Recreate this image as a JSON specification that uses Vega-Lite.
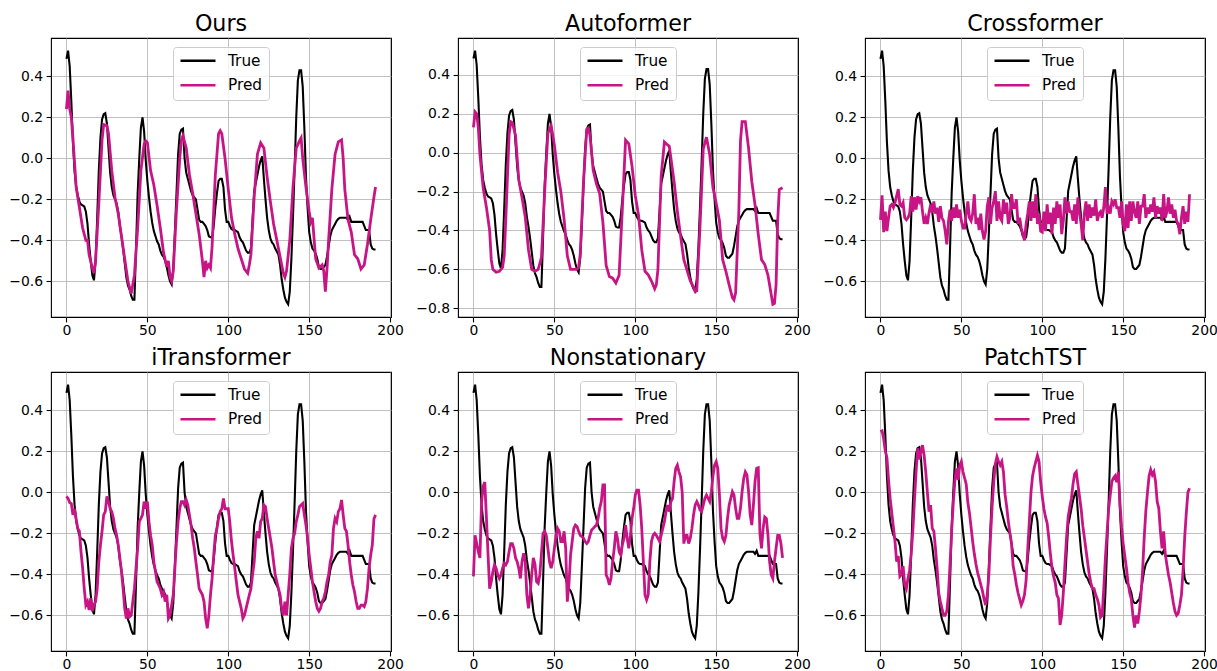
{
"$schema": "https://vega.github.io/schema/vega-lite/v6.json",
"padding": {"left": 8, "top": 12, "right": 5, "bottom": 0},
"datasets": {
"truth": [{"x":0,"y":0.485},{"x":1,"y":0.525},{"x":2,"y":0.45},{"x":3,"y":0.28},{"x":4,"y":0.08},{"x":5,"y":-0.06},{"x":6,"y":-0.14},{"x":7,"y":-0.18},{"x":8,"y":-0.21},{"x":9,"y":-0.225},{"x":10,"y":-0.23},{"x":11,"y":-0.235},{"x":12,"y":-0.26},{"x":13,"y":-0.32},{"x":14,"y":-0.42},{"x":15,"y":-0.5},{"x":16,"y":-0.57},{"x":17,"y":-0.595},{"x":18,"y":-0.5},{"x":19,"y":-0.29},{"x":20,"y":-0.06},{"x":21,"y":0.1},{"x":22,"y":0.19},{"x":23,"y":0.215},{"x":24,"y":0.22},{"x":25,"y":0.17},{"x":26,"y":0.05},{"x":27,"y":-0.07},{"x":28,"y":-0.14},{"x":29,"y":-0.18},{"x":30,"y":-0.2},{"x":31,"y":-0.22},{"x":32,"y":-0.26},{"x":33,"y":-0.33},{"x":34,"y":-0.38},{"x":35,"y":-0.44},{"x":36,"y":-0.51},{"x":37,"y":-0.58},{"x":38,"y":-0.62},{"x":39,"y":-0.64},{"x":40,"y":-0.67},{"x":41,"y":-0.69},{"x":42,"y":-0.69},{"x":43,"y":-0.44},{"x":44,"y":-0.17},{"x":45,"y":0},{"x":46,"y":0.15},{"x":47,"y":0.2},{"x":48,"y":0.13},{"x":49,"y":-0.01},{"x":50,"y":-0.11},{"x":51,"y":-0.19},{"x":52,"y":-0.26},{"x":53,"y":-0.315},{"x":54,"y":-0.355},{"x":55,"y":-0.38},{"x":56,"y":-0.405},{"x":57,"y":-0.42},{"x":58,"y":-0.45},{"x":59,"y":-0.47},{"x":60,"y":-0.48},{"x":61,"y":-0.5},{"x":62,"y":-0.53},{"x":63,"y":-0.57},{"x":64,"y":-0.6},{"x":65,"y":-0.615},{"x":66,"y":-0.54},{"x":67,"y":-0.36},{"x":68,"y":-0.17},{"x":69,"y":0.02},{"x":70,"y":0.12},{"x":71,"y":0.14},{"x":72,"y":0.145},{"x":73,"y":0},{"x":74,"y":-0.07},{"x":75,"y":-0.1},{"x":76,"y":-0.13},{"x":77,"y":-0.16},{"x":78,"y":-0.18},{"x":79,"y":-0.19},{"x":80,"y":-0.2},{"x":81,"y":-0.25},{"x":82,"y":-0.3},{"x":83,"y":-0.31},{"x":84,"y":-0.31},{"x":85,"y":-0.32},{"x":86,"y":-0.33},{"x":87,"y":-0.35},{"x":88,"y":-0.38},{"x":89,"y":-0.385},{"x":90,"y":-0.385},{"x":91,"y":-0.33},{"x":92,"y":-0.24},{"x":93,"y":-0.17},{"x":94,"y":-0.11},{"x":95,"y":-0.1},{"x":96,"y":-0.1},{"x":97,"y":-0.14},{"x":98,"y":-0.25},{"x":99,"y":-0.31},{"x":100,"y":-0.31},{"x":101,"y":-0.33},{"x":102,"y":-0.345},{"x":103,"y":-0.35},{"x":104,"y":-0.35},{"x":105,"y":-0.355},{"x":106,"y":-0.36},{"x":107,"y":-0.385},{"x":108,"y":-0.4},{"x":109,"y":-0.41},{"x":110,"y":-0.43},{"x":111,"y":-0.45},{"x":112,"y":-0.46},{"x":113,"y":-0.46},{"x":114,"y":-0.44},{"x":115,"y":-0.3},{"x":116,"y":-0.16},{"x":117,"y":-0.12},{"x":118,"y":-0.08},{"x":119,"y":-0.04},{"x":120,"y":-0.01},{"x":121,"y":0.01},{"x":122,"y":-0.1},{"x":123,"y":-0.2},{"x":124,"y":-0.29},{"x":125,"y":-0.35},{"x":126,"y":-0.39},{"x":127,"y":-0.41},{"x":128,"y":-0.42},{"x":129,"y":-0.44},{"x":130,"y":-0.455},{"x":131,"y":-0.47},{"x":132,"y":-0.52},{"x":133,"y":-0.59},{"x":134,"y":-0.64},{"x":135,"y":-0.68},{"x":136,"y":-0.7},{"x":137,"y":-0.712},{"x":138,"y":-0.65},{"x":139,"y":-0.49},{"x":140,"y":-0.28},{"x":141,"y":-0.05},{"x":142,"y":0.2},{"x":143,"y":0.38},{"x":144,"y":0.43},{"x":145,"y":0.43},{"x":146,"y":0.35},{"x":147,"y":0.15},{"x":148,"y":-0.09},{"x":149,"y":-0.24},{"x":150,"y":-0.36},{"x":151,"y":-0.41},{"x":152,"y":-0.44},{"x":153,"y":-0.45},{"x":154,"y":-0.465},{"x":155,"y":-0.49},{"x":156,"y":-0.53},{"x":157,"y":-0.54},{"x":158,"y":-0.54},{"x":159,"y":-0.53},{"x":160,"y":-0.52},{"x":161,"y":-0.48},{"x":162,"y":-0.43},{"x":163,"y":-0.38},{"x":164,"y":-0.35},{"x":165,"y":-0.335},{"x":166,"y":-0.32},{"x":167,"y":-0.305},{"x":168,"y":-0.295},{"x":169,"y":-0.29},{"x":170,"y":-0.29},{"x":171,"y":-0.29},{"x":172,"y":-0.29},{"x":173,"y":-0.29},{"x":174,"y":-0.3},{"x":175,"y":-0.285},{"x":176,"y":-0.31},{"x":177,"y":-0.31},{"x":178,"y":-0.31},{"x":179,"y":-0.31},{"x":180,"y":-0.31},{"x":181,"y":-0.31},{"x":182,"y":-0.31},{"x":183,"y":-0.31},{"x":184,"y":-0.33},{"x":185,"y":-0.35},{"x":186,"y":-0.35},{"x":187,"y":-0.35},{"x":188,"y":-0.42},{"x":189,"y":-0.44},{"x":190,"y":-0.445},{"x":191,"y":-0.445}],
"ours": [{"x":0,"y":0.24},{"x":1,"y":0.33},{"x":2,"y":0.24},{"x":3,"y":0.2},{"x":4,"y":0.1},{"x":6,"y":-0.14},{"x":8,"y":-0.24},{"x":10,"y":-0.34},{"x":12,"y":-0.4},{"x":13,"y":-0.4},{"x":14,"y":-0.47},{"x":16,"y":-0.535},{"x":17,"y":-0.56},{"x":18,"y":-0.5},{"x":20,"y":-0.22},{"x":22,"y":0.09},{"x":23,"y":0.165},{"x":25,"y":0.16},{"x":26,"y":0.12},{"x":28,"y":-0.06},{"x":30,"y":-0.19},{"x":32,"y":-0.27},{"x":34,"y":-0.38},{"x":36,"y":-0.49},{"x":38,"y":-0.6},{"x":40,"y":-0.66},{"x":42,"y":-0.57},{"x":44,"y":-0.34},{"x":46,"y":-0.06},{"x":48,"y":0.07},{"x":49,"y":0.085},{"x":50,"y":0.077},{"x":52,"y":-0.06},{"x":54,"y":-0.13},{"x":56,"y":-0.23},{"x":58,"y":-0.34},{"x":60,"y":-0.46},{"x":62,"y":-0.53},{"x":63,"y":-0.5},{"x":64,"y":-0.58},{"x":65,"y":-0.6},{"x":66,"y":-0.55},{"x":68,"y":-0.25},{"x":70,"y":0},{"x":71,"y":0.09},{"x":72,"y":0.11},{"x":74,"y":0.05},{"x":76,"y":-0.08},{"x":78,"y":-0.17},{"x":80,"y":-0.27},{"x":82,"y":-0.37},{"x":84,"y":-0.5},{"x":85,"y":-0.58},{"x":86,"y":-0.5},{"x":87,"y":-0.535},{"x":88,"y":-0.52},{"x":89,"y":-0.535},{"x":90,"y":-0.43},{"x":92,"y":-0.08},{"x":94,"y":0.12},{"x":95,"y":0.135},{"x":96,"y":0.12},{"x":98,"y":0},{"x":100,"y":-0.15},{"x":102,"y":-0.29},{"x":104,"y":-0.37},{"x":106,"y":-0.44},{"x":108,"y":-0.49},{"x":110,"y":-0.54},{"x":112,"y":-0.56},{"x":113,"y":-0.52},{"x":114,"y":-0.47},{"x":116,"y":-0.19},{"x":118,"y":0.02},{"x":120,"y":0.075},{"x":122,"y":0.05},{"x":124,"y":-0.09},{"x":126,"y":-0.21},{"x":128,"y":-0.32},{"x":130,"y":-0.4},{"x":132,"y":-0.48},{"x":134,"y":-0.56},{"x":135,"y":-0.58},{"x":136,"y":-0.55},{"x":138,"y":-0.4},{"x":140,"y":-0.14},{"x":142,"y":0.05},{"x":144,"y":0.085},{"x":145,"y":0.1},{"x":146,"y":0},{"x":148,"y":-0.14},{"x":150,"y":-0.26},{"x":151,"y":-0.31},{"x":152,"y":-0.29},{"x":154,"y":-0.49},{"x":156,"y":-0.535},{"x":158,"y":-0.52},{"x":159,"y":-0.55},{"x":160,"y":-0.65},{"x":161,"y":-0.54},{"x":162,"y":-0.4},{"x":164,"y":-0.15},{"x":166,"y":0.02},{"x":168,"y":0.08},{"x":170,"y":0.09},{"x":171,"y":0},{"x":172,"y":-0.15},{"x":174,"y":-0.3},{"x":176,"y":-0.36},{"x":178,"y":-0.47},{"x":180,"y":-0.49},{"x":182,"y":-0.54},{"x":184,"y":-0.52},{"x":186,"y":-0.42},{"x":188,"y":-0.3},{"x":190,"y":-0.19},{"x":191,"y":-0.14}],
"autoformer": [{"x":0,"y":0.13},{"x":1,"y":0.21},{"x":2,"y":0.2},{"x":3,"y":0.13},{"x":4,"y":-0.01},{"x":6,"y":-0.18},{"x":8,"y":-0.28},{"x":10,"y":-0.4},{"x":11,"y":-0.55},{"x":12,"y":-0.6},{"x":14,"y":-0.615},{"x":16,"y":-0.61},{"x":18,"y":-0.59},{"x":19,"y":-0.53},{"x":20,"y":-0.34},{"x":22,"y":0.09},{"x":23,"y":0.16},{"x":24,"y":0.155},{"x":26,"y":0.09},{"x":28,"y":-0.14},{"x":30,"y":-0.23},{"x":32,"y":-0.33},{"x":34,"y":-0.5},{"x":36,"y":-0.6},{"x":38,"y":-0.61},{"x":40,"y":-0.6},{"x":42,"y":-0.54},{"x":44,"y":-0.2},{"x":46,"y":0.1},{"x":48,"y":0.14},{"x":50,"y":0.04},{"x":52,"y":-0.1},{"x":54,"y":-0.2},{"x":56,"y":-0.34},{"x":58,"y":-0.53},{"x":60,"y":-0.6},{"x":62,"y":-0.6},{"x":64,"y":-0.6},{"x":65,"y":-0.59},{"x":66,"y":-0.52},{"x":68,"y":-0.15},{"x":70,"y":0.12},{"x":71,"y":0.127},{"x":72,"y":0.09},{"x":74,"y":-0.09},{"x":76,"y":-0.16},{"x":78,"y":-0.21},{"x":80,"y":-0.36},{"x":82,"y":-0.58},{"x":84,"y":-0.637},{"x":86,"y":-0.645},{"x":88,"y":-0.67},{"x":90,"y":-0.63},{"x":92,"y":-0.29},{"x":94,"y":0.065},{"x":96,"y":0.045},{"x":98,"y":-0.07},{"x":100,"y":-0.22},{"x":102,"y":-0.32},{"x":104,"y":-0.5},{"x":106,"y":-0.61},{"x":108,"y":-0.628},{"x":110,"y":-0.66},{"x":112,"y":-0.7},{"x":113,"y":-0.68},{"x":114,"y":-0.6},{"x":116,"y":-0.12},{"x":118,"y":0.055},{"x":120,"y":0.04},{"x":121,"y":0.033},{"x":122,"y":-0.027},{"x":124,"y":-0.15},{"x":126,"y":-0.3},{"x":128,"y":-0.43},{"x":130,"y":-0.55},{"x":132,"y":-0.605},{"x":134,"y":-0.66},{"x":136,"y":-0.69},{"x":137,"y":-0.714},{"x":138,"y":-0.71},{"x":140,"y":-0.38},{"x":142,"y":0.02},{"x":144,"y":0.08},{"x":146,"y":-0.01},{"x":148,"y":-0.18},{"x":150,"y":-0.26},{"x":152,"y":-0.35},{"x":154,"y":-0.55},{"x":156,"y":-0.61},{"x":158,"y":-0.68},{"x":160,"y":-0.745},{"x":161,"y":-0.757},{"x":162,"y":-0.72},{"x":164,"y":-0.3},{"x":165,"y":0.06},{"x":166,"y":0.16},{"x":168,"y":0.16},{"x":170,"y":0.024},{"x":172,"y":-0.148},{"x":174,"y":-0.268},{"x":176,"y":-0.42},{"x":178,"y":-0.55},{"x":180,"y":-0.575},{"x":182,"y":-0.63},{"x":184,"y":-0.73},{"x":185,"y":-0.78},{"x":186,"y":-0.775},{"x":187,"y":-0.68},{"x":188,"y":-0.35},{"x":189,"y":-0.19},{"x":191,"y":-0.18}],
"crossformer": [{"x":0,"y":-0.3},{"x":1,"y":-0.18},{"x":2,"y":-0.36},{"x":3,"y":-0.26},{"x":4,"y":-0.355},{"x":5,"y":-0.29},{"x":6,"y":-0.233},{"x":7,"y":-0.225},{"x":8,"y":-0.24},{"x":9,"y":-0.216},{"x":11,"y":-0.15},{"x":12,"y":-0.225},{"x":13,"y":-0.233},{"x":14,"y":-0.216},{"x":15,"y":-0.29},{"x":16,"y":-0.3},{"x":17,"y":-0.29},{"x":18,"y":-0.27},{"x":19,"y":-0.184},{"x":20,"y":-0.26},{"x":21,"y":-0.19},{"x":22,"y":-0.25},{"x":23,"y":-0.184},{"x":24,"y":-0.21},{"x":25,"y":-0.19},{"x":26,"y":-0.26},{"x":27,"y":-0.32},{"x":28,"y":-0.29},{"x":29,"y":-0.32},{"x":30,"y":-0.265},{"x":31,"y":-0.225},{"x":32,"y":-0.265},{"x":33,"y":-0.21},{"x":34,"y":-0.27},{"x":35,"y":-0.24},{"x":36,"y":-0.31},{"x":37,"y":-0.233},{"x":38,"y":-0.29},{"x":39,"y":-0.305},{"x":40,"y":-0.355},{"x":41,"y":-0.42},{"x":42,"y":-0.31},{"x":43,"y":-0.25},{"x":44,"y":-0.305},{"x":45,"y":-0.24},{"x":46,"y":-0.29},{"x":47,"y":-0.225},{"x":48,"y":-0.29},{"x":49,"y":-0.25},{"x":50,"y":-0.305},{"x":51,"y":-0.34},{"x":52,"y":-0.34},{"x":53,"y":-0.27},{"x":54,"y":-0.21},{"x":55,"y":-0.29},{"x":56,"y":-0.305},{"x":57,"y":-0.27},{"x":58,"y":-0.175},{"x":59,"y":-0.32},{"x":60,"y":-0.29},{"x":61,"y":-0.35},{"x":62,"y":-0.27},{"x":63,"y":-0.355},{"x":64,"y":-0.396},{"x":65,"y":-0.355},{"x":66,"y":-0.233},{"x":67,"y":-0.19},{"x":68,"y":-0.32},{"x":69,"y":-0.24},{"x":70,"y":-0.21},{"x":71,"y":-0.16},{"x":72,"y":-0.305},{"x":73,"y":-0.21},{"x":74,"y":-0.29},{"x":75,"y":-0.305},{"x":76,"y":-0.2},{"x":77,"y":-0.27},{"x":78,"y":-0.216},{"x":79,"y":-0.32},{"x":80,"y":-0.29},{"x":81,"y":-0.175},{"x":82,"y":-0.24},{"x":83,"y":-0.24},{"x":84,"y":-0.2},{"x":85,"y":-0.32},{"x":86,"y":-0.29},{"x":87,"y":-0.34},{"x":88,"y":-0.37},{"x":89,"y":-0.4},{"x":90,"y":-0.32},{"x":91,"y":-0.27},{"x":92,"y":-0.21},{"x":93,"y":-0.305},{"x":94,"y":-0.21},{"x":95,"y":-0.29},{"x":96,"y":-0.175},{"x":97,"y":-0.32},{"x":98,"y":-0.27},{"x":99,"y":-0.355},{"x":100,"y":-0.36},{"x":101,"y":-0.26},{"x":102,"y":-0.355},{"x":103,"y":-0.225},{"x":104,"y":-0.32},{"x":105,"y":-0.265},{"x":106,"y":-0.37},{"x":107,"y":-0.24},{"x":108,"y":-0.32},{"x":109,"y":-0.21},{"x":110,"y":-0.29},{"x":111,"y":-0.225},{"x":112,"y":-0.37},{"x":113,"y":-0.305},{"x":114,"y":-0.19},{"x":115,"y":-0.27},{"x":116,"y":-0.21},{"x":117,"y":-0.26},{"x":118,"y":-0.26},{"x":119,"y":-0.305},{"x":120,"y":-0.225},{"x":121,"y":-0.32},{"x":122,"y":-0.19},{"x":123,"y":-0.265},{"x":124,"y":-0.32},{"x":125,"y":-0.4},{"x":126,"y":-0.27},{"x":127,"y":-0.21},{"x":128,"y":-0.305},{"x":129,"y":-0.225},{"x":130,"y":-0.29},{"x":131,"y":-0.24},{"x":132,"y":-0.28},{"x":133,"y":-0.2},{"x":134,"y":-0.305},{"x":135,"y":-0.27},{"x":136,"y":-0.26},{"x":137,"y":-0.29},{"x":138,"y":-0.24},{"x":139,"y":-0.14},{"x":140,"y":-0.27},{"x":141,"y":-0.24},{"x":142,"y":-0.27},{"x":143,"y":-0.21},{"x":144,"y":-0.225},{"x":145,"y":-0.2},{"x":146,"y":-0.24},{"x":147,"y":-0.24},{"x":148,"y":-0.29},{"x":149,"y":-0.21},{"x":150,"y":-0.32},{"x":151,"y":-0.355},{"x":152,"y":-0.225},{"x":153,"y":-0.34},{"x":154,"y":-0.21},{"x":155,"y":-0.305},{"x":156,"y":-0.21},{"x":157,"y":-0.26},{"x":158,"y":-0.29},{"x":159,"y":-0.21},{"x":160,"y":-0.32},{"x":161,"y":-0.233},{"x":162,"y":-0.233},{"x":163,"y":-0.175},{"x":164,"y":-0.29},{"x":165,"y":-0.24},{"x":166,"y":-0.27},{"x":167,"y":-0.225},{"x":168,"y":-0.26},{"x":169,"y":-0.19},{"x":170,"y":-0.29},{"x":171,"y":-0.233},{"x":172,"y":-0.27},{"x":173,"y":-0.24},{"x":174,"y":-0.305},{"x":175,"y":-0.175},{"x":176,"y":-0.29},{"x":177,"y":-0.26},{"x":178,"y":-0.19},{"x":179,"y":-0.27},{"x":180,"y":-0.225},{"x":181,"y":-0.29},{"x":182,"y":-0.25},{"x":183,"y":-0.305},{"x":184,"y":-0.32},{"x":185,"y":-0.37},{"x":186,"y":-0.29},{"x":187,"y":-0.233},{"x":188,"y":-0.32},{"x":189,"y":-0.26},{"x":190,"y":-0.31},{"x":191,"y":-0.175}],
"itransformer": [{"x":0,"y":-0.02},{"x":1,"y":-0.03},{"x":2,"y":-0.05},{"x":3,"y":-0.055},{"x":4,"y":-0.11},{"x":5,"y":-0.08},{"x":6,"y":-0.13},{"x":7,"y":-0.176},{"x":8,"y":-0.19},{"x":9,"y":-0.29},{"x":10,"y":-0.37},{"x":11,"y":-0.47},{"x":12,"y":-0.55},{"x":13,"y":-0.533},{"x":14,"y":-0.574},{"x":15,"y":-0.517},{"x":16,"y":-0.58},{"x":17,"y":-0.55},{"x":18,"y":-0.533},{"x":19,"y":-0.47},{"x":20,"y":-0.34},{"x":21,"y":-0.257},{"x":22,"y":-0.19},{"x":23,"y":-0.11},{"x":24,"y":-0.094},{"x":25,"y":-0.02},{"x":26,"y":-0.045},{"x":27,"y":-0.08},{"x":28,"y":-0.094},{"x":29,"y":-0.127},{"x":30,"y":-0.176},{"x":31,"y":-0.21},{"x":32,"y":-0.257},{"x":33,"y":-0.32},{"x":34,"y":-0.387},{"x":35,"y":-0.47},{"x":36,"y":-0.566},{"x":37,"y":-0.615},{"x":38,"y":-0.566},{"x":39,"y":-0.607},{"x":40,"y":-0.6},{"x":41,"y":-0.533},{"x":42,"y":-0.47},{"x":43,"y":-0.37},{"x":44,"y":-0.273},{"x":45,"y":-0.143},{"x":46,"y":-0.127},{"x":47,"y":-0.11},{"x":48,"y":-0.045},{"x":49,"y":-0.08},{"x":50,"y":-0.045},{"x":51,"y":-0.143},{"x":52,"y":-0.21},{"x":53,"y":-0.257},{"x":54,"y":-0.34},{"x":55,"y":-0.387},{"x":56,"y":-0.436},{"x":57,"y":-0.452},{"x":58,"y":-0.47},{"x":59,"y":-0.5},{"x":60,"y":-0.485},{"x":61,"y":-0.533},{"x":62,"y":-0.5},{"x":63,"y":-0.615},{"x":64,"y":-0.6},{"x":65,"y":-0.55},{"x":66,"y":-0.5},{"x":67,"y":-0.37},{"x":68,"y":-0.24},{"x":69,"y":-0.143},{"x":70,"y":-0.08},{"x":71,"y":-0.045},{"x":72,"y":-0.045},{"x":73,"y":-0.062},{"x":74,"y":-0.037},{"x":75,"y":-0.062},{"x":76,"y":-0.11},{"x":77,"y":-0.16},{"x":78,"y":-0.224},{"x":79,"y":-0.273},{"x":80,"y":-0.34},{"x":81,"y":-0.403},{"x":82,"y":-0.47},{"x":83,"y":-0.485},{"x":84,"y":-0.5},{"x":85,"y":-0.533},{"x":86,"y":-0.615},{"x":87,"y":-0.663},{"x":88,"y":-0.6},{"x":89,"y":-0.5},{"x":90,"y":-0.42},{"x":91,"y":-0.306},{"x":92,"y":-0.21},{"x":93,"y":-0.176},{"x":94,"y":-0.127},{"x":95,"y":-0.094},{"x":96,"y":-0.08},{"x":97,"y":-0.03},{"x":98,"y":-0.08},{"x":99,"y":-0.08},{"x":100,"y":-0.08},{"x":101,"y":-0.15},{"x":102,"y":-0.24},{"x":103,"y":-0.306},{"x":104,"y":-0.37},{"x":105,"y":-0.436},{"x":106,"y":-0.5},{"x":107,"y":-0.533},{"x":108,"y":-0.566},{"x":109,"y":-0.615},{"x":110,"y":-0.6},{"x":111,"y":-0.566},{"x":112,"y":-0.533},{"x":113,"y":-0.5},{"x":114,"y":-0.47},{"x":115,"y":-0.403},{"x":116,"y":-0.34},{"x":117,"y":-0.224},{"x":118,"y":-0.19},{"x":119,"y":-0.224},{"x":120,"y":-0.143},{"x":121,"y":-0.127},{"x":122,"y":-0.062},{"x":123,"y":-0.07},{"x":124,"y":-0.127},{"x":125,"y":-0.176},{"x":126,"y":-0.224},{"x":127,"y":-0.273},{"x":128,"y":-0.34},{"x":129,"y":-0.403},{"x":130,"y":-0.436},{"x":131,"y":-0.47},{"x":132,"y":-0.5},{"x":133,"y":-0.566},{"x":134,"y":-0.6},{"x":135,"y":-0.533},{"x":136,"y":-0.6},{"x":137,"y":-0.5},{"x":138,"y":-0.4},{"x":139,"y":-0.273},{"x":140,"y":-0.224},{"x":141,"y":-0.2},{"x":142,"y":-0.143},{"x":143,"y":-0.11},{"x":144,"y":-0.07},{"x":145,"y":-0.062},{"x":146,"y":-0.054},{"x":147,"y":-0.11},{"x":148,"y":-0.16},{"x":149,"y":-0.224},{"x":150,"y":-0.306},{"x":151,"y":-0.37},{"x":152,"y":-0.436},{"x":153,"y":-0.485},{"x":154,"y":-0.533},{"x":155,"y":-0.566},{"x":156,"y":-0.58},{"x":157,"y":-0.566},{"x":158,"y":-0.533},{"x":159,"y":-0.517},{"x":160,"y":-0.485},{"x":161,"y":-0.436},{"x":162,"y":-0.403},{"x":163,"y":-0.34},{"x":164,"y":-0.306},{"x":165,"y":-0.176},{"x":166,"y":-0.127},{"x":167,"y":-0.143},{"x":168,"y":-0.094},{"x":169,"y":-0.08},{"x":170,"y":-0.037},{"x":171,"y":-0.11},{"x":172,"y":-0.176},{"x":173,"y":-0.19},{"x":174,"y":-0.257},{"x":175,"y":-0.34},{"x":176,"y":-0.403},{"x":177,"y":-0.452},{"x":178,"y":-0.485},{"x":179,"y":-0.533},{"x":180,"y":-0.566},{"x":181,"y":-0.566},{"x":182,"y":-0.55},{"x":183,"y":-0.55},{"x":184,"y":-0.557},{"x":185,"y":-0.533},{"x":186,"y":-0.47},{"x":187,"y":-0.37},{"x":188,"y":-0.306},{"x":189,"y":-0.257},{"x":190,"y":-0.13},{"x":191,"y":-0.11}],
"nonstationary": [{"x":0,"y":-0.41},{"x":1,"y":-0.21},{"x":2,"y":-0.25},{"x":3,"y":-0.29},{"x":4,"y":-0.32},{"x":5,"y":-0.05},{"x":6,"y":0.03},{"x":7,"y":0.05},{"x":8,"y":-0.12},{"x":9,"y":-0.3},{"x":10,"y":-0.47},{"x":11,"y":-0.436},{"x":12,"y":-0.387},{"x":13,"y":-0.354},{"x":14,"y":-0.37},{"x":15,"y":-0.403},{"x":16,"y":-0.42},{"x":17,"y":-0.403},{"x":18,"y":-0.37},{"x":19,"y":-0.346},{"x":20,"y":-0.354},{"x":21,"y":-0.338},{"x":22,"y":-0.29},{"x":23,"y":-0.25},{"x":24,"y":-0.25},{"x":25,"y":-0.273},{"x":26,"y":-0.32},{"x":27,"y":-0.338},{"x":28,"y":-0.37},{"x":29,"y":-0.42},{"x":30,"y":-0.338},{"x":31,"y":-0.297},{"x":32,"y":-0.338},{"x":33,"y":-0.5},{"x":34,"y":-0.566},{"x":35,"y":-0.5},{"x":36,"y":-0.4},{"x":37,"y":-0.32},{"x":38,"y":-0.35},{"x":39,"y":-0.436},{"x":40,"y":-0.444},{"x":41,"y":-0.403},{"x":42,"y":-0.3},{"x":43,"y":-0.2},{"x":44,"y":-0.19},{"x":45,"y":-0.21},{"x":46,"y":-0.273},{"x":47,"y":-0.338},{"x":48,"y":-0.37},{"x":49,"y":-0.338},{"x":50,"y":-0.273},{"x":51,"y":-0.21},{"x":52,"y":-0.176},{"x":53,"y":-0.19},{"x":54,"y":-0.24},{"x":55,"y":-0.24},{"x":56,"y":-0.19},{"x":57,"y":-0.273},{"x":58,"y":-0.533},{"x":59,"y":-0.45},{"x":60,"y":-0.306},{"x":61,"y":-0.24},{"x":62,"y":-0.176},{"x":63,"y":-0.16},{"x":64,"y":-0.167},{"x":65,"y":-0.19},{"x":66,"y":-0.21},{"x":67,"y":-0.216},{"x":68,"y":-0.224},{"x":69,"y":-0.24},{"x":70,"y":-0.25},{"x":71,"y":-0.24},{"x":72,"y":-0.21},{"x":73,"y":-0.184},{"x":74,"y":-0.176},{"x":75,"y":-0.167},{"x":76,"y":-0.16},{"x":77,"y":-0.127},{"x":78,"y":-0.078},{"x":79,"y":-0.045},{"x":80,"y":0.036},{"x":81,"y":0.036},{"x":82,"y":-0.403},{"x":83,"y":-0.42},{"x":84,"y":-0.452},{"x":85,"y":-0.42},{"x":86,"y":-0.338},{"x":87,"y":-0.273},{"x":88,"y":-0.19},{"x":89,"y":-0.224},{"x":90,"y":-0.29},{"x":91,"y":-0.306},{"x":92,"y":-0.257},{"x":93,"y":-0.224},{"x":94,"y":-0.16},{"x":95,"y":-0.224},{"x":96,"y":-0.273},{"x":97,"y":-0.21},{"x":98,"y":-0.127},{"x":99,"y":-0.078},{"x":100,"y":-0.013},{"x":101,"y":0.011},{"x":102,"y":0.011},{"x":103,"y":-0.062},{"x":104,"y":-0.176},{"x":105,"y":-0.338},{"x":106,"y":-0.5},{"x":107,"y":-0.525},{"x":108,"y":-0.5},{"x":109,"y":-0.338},{"x":110,"y":-0.24},{"x":111,"y":-0.21},{"x":112,"y":-0.2},{"x":113,"y":-0.21},{"x":114,"y":-0.224},{"x":115,"y":-0.24},{"x":116,"y":-0.21},{"x":117,"y":-0.176},{"x":118,"y":-0.143},{"x":119,"y":-0.094},{"x":120,"y":-0.062},{"x":121,"y":-0.094},{"x":122,"y":-0.045},{"x":123,"y":-0.03},{"x":124,"y":0.052},{"x":125,"y":0.117},{"x":126,"y":0.133},{"x":127,"y":0.1},{"x":128,"y":0.076},{"x":129,"y":0},{"x":130,"y":-0.25},{"x":131,"y":-0.21},{"x":132,"y":-0.21},{"x":133,"y":-0.25},{"x":134,"y":-0.224},{"x":135,"y":-0.176},{"x":136,"y":-0.11},{"x":137,"y":-0.062},{"x":138,"y":-0.045},{"x":139,"y":-0.062},{"x":140,"y":-0.086},{"x":141,"y":-0.094},{"x":142,"y":-0.062},{"x":143,"y":-0.03},{"x":144,"y":-0.013},{"x":145,"y":-0.03},{"x":146,"y":-0.045},{"x":147,"y":0.003},{"x":148,"y":0.08},{"x":149,"y":0.133},{"x":150,"y":0.15},{"x":151,"y":0.117},{"x":152,"y":-0.013},{"x":153,"y":-0.176},{"x":154,"y":-0.224},{"x":155,"y":-0.24},{"x":156,"y":-0.21},{"x":157,"y":-0.127},{"x":158,"y":-0.062},{"x":159,"y":-0.03},{"x":160,"y":0.003},{"x":161,"y":-0.013},{"x":162,"y":-0.078},{"x":163,"y":-0.127},{"x":164,"y":-0.127},{"x":165,"y":-0.078},{"x":166,"y":0.003},{"x":167,"y":0.068},{"x":168,"y":0.1},{"x":169,"y":0.085},{"x":170,"y":0.003},{"x":171,"y":-0.11},{"x":172,"y":-0.16},{"x":173,"y":-0.062},{"x":174,"y":0.052},{"x":175,"y":0.117},{"x":176,"y":0.12},{"x":177,"y":-0.2},{"x":178,"y":-0.273},{"x":179,"y":-0.176},{"x":180,"y":-0.12},{"x":181,"y":-0.127},{"x":182,"y":-0.21},{"x":183,"y":-0.338},{"x":184,"y":-0.403},{"x":185,"y":-0.42},{"x":186,"y":-0.338},{"x":187,"y":-0.273},{"x":188,"y":-0.21},{"x":189,"y":-0.21},{"x":190,"y":-0.25},{"x":191,"y":-0.32}],
"patchtst": [{"x":0,"y":0.296},{"x":1,"y":0.3},{"x":2,"y":0.26},{"x":3,"y":0.2},{"x":4,"y":0.17},{"x":5,"y":0.06},{"x":6,"y":-0.03},{"x":7,"y":-0.1},{"x":8,"y":-0.17},{"x":9,"y":-0.24},{"x":10,"y":-0.338},{"x":11,"y":-0.31},{"x":12,"y":-0.41},{"x":13,"y":-0.4},{"x":14,"y":-0.36},{"x":15,"y":-0.45},{"x":16,"y":-0.47},{"x":17,"y":-0.42},{"x":18,"y":-0.38},{"x":19,"y":-0.3},{"x":20,"y":-0.19},{"x":21,"y":-0.04},{"x":22,"y":0.1},{"x":23,"y":0.215},{"x":24,"y":0.16},{"x":25,"y":0.2},{"x":26,"y":0.23},{"x":27,"y":0.18},{"x":28,"y":0.1},{"x":29,"y":0},{"x":30,"y":-0.094},{"x":31,"y":-0.062},{"x":32,"y":-0.176},{"x":33,"y":-0.19},{"x":34,"y":-0.273},{"x":35,"y":-0.37},{"x":36,"y":-0.49},{"x":37,"y":-0.533},{"x":38,"y":-0.566},{"x":39,"y":-0.6},{"x":40,"y":-0.6},{"x":41,"y":-0.58},{"x":42,"y":-0.5},{"x":43,"y":-0.35},{"x":44,"y":-0.19},{"x":45,"y":-0.05},{"x":46,"y":0.06},{"x":47,"y":0.117},{"x":48,"y":0.06},{"x":49,"y":0.13},{"x":50,"y":0.15},{"x":51,"y":0.1},{"x":52,"y":0.07},{"x":53,"y":0.04},{"x":54,"y":-0.05},{"x":55,"y":-0.1},{"x":56,"y":-0.17},{"x":57,"y":-0.24},{"x":58,"y":-0.3},{"x":59,"y":-0.35},{"x":60,"y":-0.39},{"x":61,"y":-0.42},{"x":62,"y":-0.45},{"x":63,"y":-0.48},{"x":64,"y":-0.52},{"x":65,"y":-0.55},{"x":66,"y":-0.5},{"x":67,"y":-0.4},{"x":68,"y":-0.22},{"x":69,"y":-0.07},{"x":70,"y":0.05},{"x":71,"y":0.14},{"x":72,"y":0.174},{"x":73,"y":0.15},{"x":74,"y":0.133},{"x":75,"y":0.15},{"x":76,"y":0.1},{"x":77,"y":-0.01},{"x":78,"y":-0.07},{"x":79,"y":-0.14},{"x":80,"y":-0.2},{"x":81,"y":-0.25},{"x":82,"y":-0.36},{"x":83,"y":-0.4},{"x":84,"y":-0.45},{"x":85,"y":-0.49},{"x":86,"y":-0.52},{"x":87,"y":-0.55},{"x":88,"y":-0.53},{"x":89,"y":-0.5},{"x":90,"y":-0.43},{"x":91,"y":-0.28},{"x":92,"y":-0.14},{"x":93,"y":0},{"x":94,"y":0.08},{"x":95,"y":0.12},{"x":96,"y":0.15},{"x":97,"y":0.18},{"x":98,"y":0.15},{"x":99,"y":0.05},{"x":100,"y":-0.02},{"x":101,"y":-0.08},{"x":102,"y":-0.12},{"x":103,"y":-0.15},{"x":104,"y":-0.22},{"x":105,"y":-0.3},{"x":106,"y":-0.37},{"x":107,"y":-0.41},{"x":108,"y":-0.44},{"x":109,"y":-0.5},{"x":110,"y":-0.517},{"x":111,"y":-0.647},{"x":112,"y":-0.6},{"x":113,"y":-0.49},{"x":114,"y":-0.35},{"x":115,"y":-0.22},{"x":116,"y":-0.12},{"x":117,"y":-0.07},{"x":118,"y":-0.03},{"x":119,"y":0.04},{"x":120,"y":0.09},{"x":121,"y":0.1},{"x":122,"y":0.04},{"x":123,"y":-0.02},{"x":124,"y":-0.08},{"x":125,"y":-0.16},{"x":126,"y":-0.22},{"x":127,"y":-0.28},{"x":128,"y":-0.34},{"x":129,"y":-0.4},{"x":130,"y":-0.44},{"x":131,"y":-0.47},{"x":132,"y":-0.47},{"x":133,"y":-0.5},{"x":134,"y":-0.52},{"x":135,"y":-0.55},{"x":136,"y":-0.61},{"x":137,"y":-0.6},{"x":138,"y":-0.47},{"x":139,"y":-0.32},{"x":140,"y":-0.2},{"x":141,"y":-0.08},{"x":142,"y":-0.013},{"x":143,"y":0.052},{"x":144,"y":0.07},{"x":145,"y":0.08},{"x":146,"y":0.05},{"x":147,"y":0.1},{"x":148,"y":-0.05},{"x":149,"y":-0.17},{"x":150,"y":-0.25},{"x":151,"y":-0.31},{"x":152,"y":-0.37},{"x":153,"y":-0.44},{"x":154,"y":-0.49},{"x":155,"y":-0.52},{"x":156,"y":-0.6},{"x":157,"y":-0.66},{"x":158,"y":-0.6},{"x":159,"y":-0.64},{"x":160,"y":-0.58},{"x":161,"y":-0.5},{"x":162,"y":-0.38},{"x":163,"y":-0.22},{"x":164,"y":-0.09},{"x":165,"y":0},{"x":166,"y":0.08},{"x":167,"y":0.11},{"x":168,"y":0.085},{"x":169,"y":0.1},{"x":170,"y":0.052},{"x":171,"y":-0.045},{"x":172,"y":-0.078},{"x":173,"y":-0.19},{"x":174,"y":-0.273},{"x":175,"y":-0.19},{"x":176,"y":-0.3},{"x":177,"y":-0.354},{"x":178,"y":-0.403},{"x":179,"y":-0.44},{"x":180,"y":-0.49},{"x":181,"y":-0.54},{"x":182,"y":-0.58},{"x":183,"y":-0.6},{"x":184,"y":-0.59},{"x":185,"y":-0.55},{"x":186,"y":-0.5},{"x":187,"y":-0.38},{"x":188,"y":-0.22},{"x":189,"y":-0.1},{"x":190,"y":0},{"x":191,"y":0.02}]
},
"columns": 3,
"spacing": {"row": 55, "column": 67},
"bounds": "flush",
"resolve": {"scale": {"color": "independent", "x": "independent", "y": "independent"}, "legend": {"color": "independent"}},
"concat": [
{"title": "Ours", "width": 340, "height": 279, "layer": [
 {"data": {"name": "truth"}, "mark": {"type": "line", "strokeWidth": 2.08, "clip": true}, "encoding": {
  "x": {"field": "x", "type": "quantitative", "scale": {"domain": [-9.55, 200.55], "nice": false, "zero": false}, "axis": {"title": null, "values": [0, 50, 100, 150, 200]}},
  "y": {"field": "y", "type": "quantitative", "scale": {"domain": [-0.774, 0.587], "nice": false, "zero": false}, "axis": {"title": null, "values": [-0.6, -0.4, -0.2, 0, 0.2, 0.4], "format": ".1f"}},
  "color": {"datum": "True", "scale": {"domain": ["True", "Pred"], "range": ["#000000", "#c71585"]}, "legend": {"title": null, "orient": "none", "legendX": 122, "legendY": 9, "direction": "vertical"}}}},
 {"data": {"name": "ours"}, "mark": {"type": "line", "strokeWidth": 2.8, "clip": true}, "encoding": {"x": {"field": "x", "type": "quantitative"}, "y": {"field": "y", "type": "quantitative"}, "color": {"datum": "Pred"}}}
]},
{"title": "Autoformer", "width": 340, "height": 279, "layer": [
 {"data": {"name": "truth"}, "mark": {"type": "line", "strokeWidth": 2.08, "clip": true}, "encoding": {
  "x": {"field": "x", "type": "quantitative", "scale": {"domain": [-9.55, 200.55], "nice": false, "zero": false}, "axis": {"title": null, "values": [0, 50, 100, 150, 200]}},
  "y": {"field": "y", "type": "quantitative", "scale": {"domain": [-0.845, 0.59], "nice": false, "zero": false}, "axis": {"title": null, "values": [-0.8, -0.6, -0.4, -0.2, 0, 0.2, 0.4], "format": ".1f"}},
  "color": {"datum": "True", "scale": {"domain": ["True", "Pred"], "range": ["#000000", "#c71585"]}, "legend": {"title": null, "orient": "none", "legendX": 122, "legendY": 9, "direction": "vertical"}}}},
 {"data": {"name": "autoformer"}, "mark": {"type": "line", "strokeWidth": 2.8, "clip": true}, "encoding": {"x": {"field": "x", "type": "quantitative"}, "y": {"field": "y", "type": "quantitative"}, "color": {"datum": "Pred"}}}
]},
{"title": "Crossformer", "width": 340, "height": 279, "layer": [
 {"data": {"name": "truth"}, "mark": {"type": "line", "strokeWidth": 2.08, "clip": true}, "encoding": {
  "x": {"field": "x", "type": "quantitative", "scale": {"domain": [-9.55, 200.55], "nice": false, "zero": false}, "axis": {"title": null, "values": [0, 50, 100, 150, 200]}},
  "y": {"field": "y", "type": "quantitative", "scale": {"domain": [-0.774, 0.587], "nice": false, "zero": false}, "axis": {"title": null, "values": [-0.6, -0.4, -0.2, 0, 0.2, 0.4], "format": ".1f"}},
  "color": {"datum": "True", "scale": {"domain": ["True", "Pred"], "range": ["#000000", "#c71585"]}, "legend": {"title": null, "orient": "none", "legendX": 122, "legendY": 9, "direction": "vertical"}}}},
 {"data": {"name": "crossformer"}, "mark": {"type": "line", "strokeWidth": 2.8, "clip": true}, "encoding": {"x": {"field": "x", "type": "quantitative"}, "y": {"field": "y", "type": "quantitative"}, "color": {"datum": "Pred"}}}
]},
{"title": "iTransformer", "width": 340, "height": 279, "layer": [
 {"data": {"name": "truth"}, "mark": {"type": "line", "strokeWidth": 2.08, "clip": true}, "encoding": {
  "x": {"field": "x", "type": "quantitative", "scale": {"domain": [-9.55, 200.55], "nice": false, "zero": false}, "axis": {"title": null, "values": [0, 50, 100, 150, 200]}},
  "y": {"field": "y", "type": "quantitative", "scale": {"domain": [-0.774, 0.587], "nice": false, "zero": false}, "axis": {"title": null, "values": [-0.6, -0.4, -0.2, 0, 0.2, 0.4], "format": ".1f"}},
  "color": {"datum": "True", "scale": {"domain": ["True", "Pred"], "range": ["#000000", "#c71585"]}, "legend": {"title": null, "orient": "none", "legendX": 122, "legendY": 9, "direction": "vertical"}}}},
 {"data": {"name": "itransformer"}, "mark": {"type": "line", "strokeWidth": 2.8, "clip": true}, "encoding": {"x": {"field": "x", "type": "quantitative"}, "y": {"field": "y", "type": "quantitative"}, "color": {"datum": "Pred"}}}
]},
{"title": "Nonstationary", "width": 340, "height": 279, "layer": [
 {"data": {"name": "truth"}, "mark": {"type": "line", "strokeWidth": 2.08, "clip": true}, "encoding": {
  "x": {"field": "x", "type": "quantitative", "scale": {"domain": [-9.55, 200.55], "nice": false, "zero": false}, "axis": {"title": null, "values": [0, 50, 100, 150, 200]}},
  "y": {"field": "y", "type": "quantitative", "scale": {"domain": [-0.774, 0.587], "nice": false, "zero": false}, "axis": {"title": null, "values": [-0.6, -0.4, -0.2, 0, 0.2, 0.4], "format": ".1f"}},
  "color": {"datum": "True", "scale": {"domain": ["True", "Pred"], "range": ["#000000", "#c71585"]}, "legend": {"title": null, "orient": "none", "legendX": 122, "legendY": 9, "direction": "vertical"}}}},
 {"data": {"name": "nonstationary"}, "mark": {"type": "line", "strokeWidth": 2.8, "clip": true}, "encoding": {"x": {"field": "x", "type": "quantitative"}, "y": {"field": "y", "type": "quantitative"}, "color": {"datum": "Pred"}}}
]},
{"title": "PatchTST", "width": 340, "height": 279, "layer": [
 {"data": {"name": "truth"}, "mark": {"type": "line", "strokeWidth": 2.08, "clip": true}, "encoding": {
  "x": {"field": "x", "type": "quantitative", "scale": {"domain": [-9.55, 200.55], "nice": false, "zero": false}, "axis": {"title": null, "values": [0, 50, 100, 150, 200]}},
  "y": {"field": "y", "type": "quantitative", "scale": {"domain": [-0.774, 0.587], "nice": false, "zero": false}, "axis": {"title": null, "values": [-0.6, -0.4, -0.2, 0, 0.2, 0.4], "format": ".1f"}},
  "color": {"datum": "True", "scale": {"domain": ["True", "Pred"], "range": ["#000000", "#c71585"]}, "legend": {"title": null, "orient": "none", "legendX": 122, "legendY": 9, "direction": "vertical"}}}},
 {"data": {"name": "patchtst"}, "mark": {"type": "line", "strokeWidth": 2.8, "clip": true}, "encoding": {"x": {"field": "x", "type": "quantitative"}, "y": {"field": "y", "type": "quantitative"}, "color": {"datum": "Pred"}}}
]}
],
"config": {
 "font": "DejaVu Sans",
 "background": "#ffffff",
 "view": {"stroke": "#000000", "strokeWidth": 1.1},
 "axis": {"grid": true, "gridColor": "#b0b0b0", "gridWidth": 0.8, "gridOpacity": 1, "domain": false, "ticks": true, "tickColor": "#000000", "tickSize": 4.9, "tickWidth": 1.1, "labelFontSize": 13.9, "labelColor": "#000000", "labelFont": "DejaVu Sans", "labelPadding": 3.5, "labelFlush": false, "labelOverlap": false},
 "axisX": {"labelPadding": 2},
 "title": {"fontSize": 22.2, "font": "DejaVu Sans", "fontWeight": "normal", "color": "#000000", "anchor": "middle", "offset": 3},
 "legend": {"symbolType": "stroke", "symbolSize": 1225, "symbolStrokeWidth": 2.5, "labelFontSize": 15.3, "labelColor": "#000000", "labelFont": "DejaVu Sans", "labelOffset": 11, "rowPadding": 8.7, "padding": 6, "strokeColor": "#cccccc", "fillColor": "rgba(255,255,255,0.8)", "cornerRadius": 3, "clipHeight": 15.3, "symbolOpacity": 1}
}
}
